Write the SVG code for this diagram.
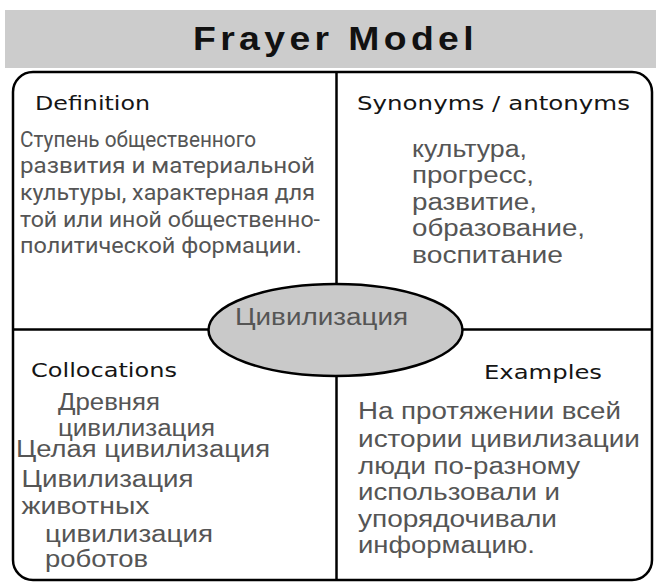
<svg xmlns="http://www.w3.org/2000/svg" width="656" height="583" viewBox="0 0 656 583">
<style>
.h{font-family:"DejaVu Sans",sans-serif;font-size:20px;fill:#151515}
.b{font-family:Roboto,"Liberation Sans",sans-serif;font-size:22.5px;fill:#555}
.s{font-family:"Liberation Sans",Arial,sans-serif;font-size:23px;fill:#555}
.ln{stroke:#000;stroke-width:2.5;fill:none}
</style>
<rect x="0" y="0" width="656" height="583" fill="#fff"/>
<g id="title">
<rect x="5" y="10" width="651" height="58" fill="#cccccc"/>
<text x="193" y="50" font-family="Liberation Sans,Arial,sans-serif" font-weight="bold" font-size="34" letter-spacing="4" fill="#111" textLength="285" lengthAdjust="spacingAndGlyphs">Frayer Model</text>
</g>
<g id="frame">
<rect class="ln" x="13" y="72" width="639" height="508" rx="20" ry="20"/>
</g>
<g id="connectors">
<line class="ln" x1="336.5" y1="72" x2="336.5" y2="580"/>
<line class="ln" x1="13" y1="329.5" x2="209" y2="329.5"/>
<line class="ln" x1="462" y1="329.5" x2="652" y2="329.5"/>
</g>
<g id="definition">
<text class="h" x="35" y="110" textLength="115" lengthAdjust="spacingAndGlyphs">Definition</text>
<text class="b" x="20" y="146.5" textLength="236" lengthAdjust="spacingAndGlyphs">Ступень общественного</text>
<text class="b" x="20" y="173" textLength="295" lengthAdjust="spacingAndGlyphs">развития и материальной</text>
<text class="b" x="20" y="200" textLength="295" lengthAdjust="spacingAndGlyphs">культуры, характерная для</text>
<text class="b" x="20" y="226.5" textLength="300" lengthAdjust="spacingAndGlyphs">той или иной общественно-</text>
<text class="b" x="20" y="253" textLength="282" lengthAdjust="spacingAndGlyphs">политической формации.</text>
</g>
<g id="synonyms">
<text class="h" x="357" y="110" textLength="273" lengthAdjust="spacingAndGlyphs">Synonyms / antonyms</text>
<text class="s" x="412" y="156.5" textLength="115" lengthAdjust="spacingAndGlyphs">культура,</text>
<text class="s" x="412" y="183" textLength="122" lengthAdjust="spacingAndGlyphs">прогресс,</text>
<text class="s" x="412" y="209.5" textLength="125" lengthAdjust="spacingAndGlyphs">развитие,</text>
<text class="s" x="412" y="236" textLength="173" lengthAdjust="spacingAndGlyphs">образование,</text>
<text class="s" x="412" y="262.5" textLength="151" lengthAdjust="spacingAndGlyphs">воспитание</text>
</g>
<g id="collocations">
<text class="h" x="31" y="376.5" textLength="146" lengthAdjust="spacingAndGlyphs">Collocations</text>
<text class="s" x="58" y="410" textLength="102" lengthAdjust="spacingAndGlyphs">Древняя</text>
<text class="s" x="58" y="435.5" textLength="157" lengthAdjust="spacingAndGlyphs">цивилизация</text>
<text class="s" x="16" y="457" textLength="254" lengthAdjust="spacingAndGlyphs">Целая цивилизация</text>
<text class="s" x="21.5" y="486.5" textLength="172" lengthAdjust="spacingAndGlyphs">Цивилизация</text>
<text class="s" x="21.5" y="513.5" textLength="128" lengthAdjust="spacingAndGlyphs">животных</text>
<text class="s" x="45" y="541.5" textLength="168" lengthAdjust="spacingAndGlyphs">цивилизация</text>
<text class="s" x="45" y="566.5" textLength="103" lengthAdjust="spacingAndGlyphs">роботов</text>
</g>
<g id="examples">
<text class="h" x="484" y="379" font-size="21" textLength="118" lengthAdjust="spacingAndGlyphs">Examples</text>
<text class="s" x="358" y="418.5" textLength="263" lengthAdjust="spacingAndGlyphs">На протяжении всей</text>
<text class="s" x="358" y="446.5" textLength="282" lengthAdjust="spacingAndGlyphs">истории цивилизации</text>
<text class="s" x="358" y="473.5" textLength="222" lengthAdjust="spacingAndGlyphs">люди по-разному</text>
<text class="s" x="358" y="500" textLength="202" lengthAdjust="spacingAndGlyphs">использовали и</text>
<text class="s" x="358" y="526.5" textLength="199" lengthAdjust="spacingAndGlyphs">упорядочивали</text>
<text class="s" x="358" y="553" textLength="177" lengthAdjust="spacingAndGlyphs">информацию.</text>
</g>
<g id="center">
<ellipse cx="335.5" cy="330" rx="127" ry="46" fill="#c9c9c9" stroke="#000" stroke-width="2.5"/>
<text class="s" x="235" y="325" font-size="24" textLength="173" lengthAdjust="spacingAndGlyphs">Цивилизация</text>
</g>
</svg>
